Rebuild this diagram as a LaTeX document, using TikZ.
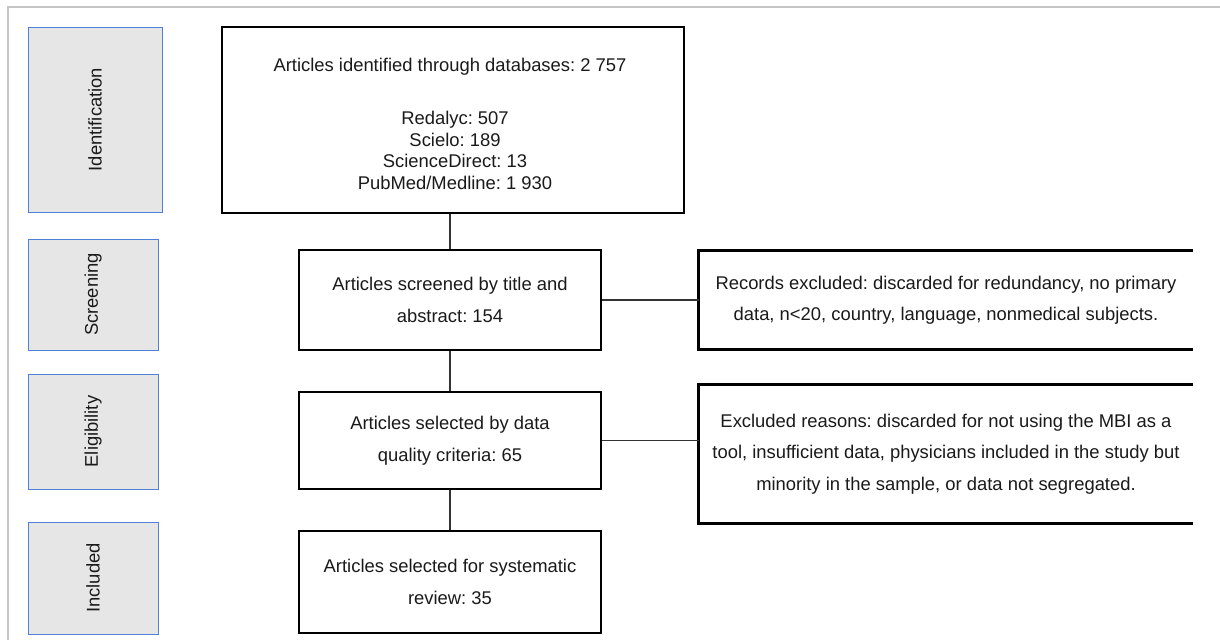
\documentclass[tikz,border=0pt]{standalone}
\usepackage{fontspec}
\setmainfont{Liberation Sans}
\definecolor{stageblue}{HTML}{4F81D9}
\definecolor{stagegray}{HTML}{E6E6E6}
\definecolor{linkgray}{HTML}{333333}
\definecolor{framegray}{HTML}{C4C4C4}
\definecolor{txtcol}{HTML}{1A1A1A}
\frenchspacing
\begin{document}
\begin{tikzpicture}[x=1pt,y=-1pt,
  txt/.style={font=\fontsize{18.4}{31.5}\selectfont, text=txtcol},
  stage/.style={draw=stageblue, fill=stagegray, line width=1pt, inner sep=0pt, txt},
  mainbox/.style={draw=black, line width=2.8pt, inner sep=0pt, align=center, txt},
  openbox/.style={draw=none, inner sep=0pt, align=center, txt},
  boxline/.style={draw=black, line width=2.8pt},
  link/.style={draw=linkgray, line width=1.4pt},
  frame/.style={draw=framegray, line width=1.5pt}]
\useasboundingbox (0,0) rectangle (1220,640);
\fill[white] (0,0) rectangle (1220,640);
\draw[frame] (8,640) -- (8,7) -- (1220,7);

% stage labels
\node[stage, minimum width=134pt, minimum height=185pt] (sid) at (95,119.5) {\rotatebox{90}{Identification}};
\node[stage, minimum width=130pt, minimum height=111pt] (sscr) at (93,294.5) {\rotatebox{90}{Screening}};
\node[stage, minimum width=130pt, minimum height=115pt] (selg) at (93,431.5) {\rotatebox{90}{Eligibility}};
\node[stage, minimum width=130pt, minimum height=112pt] (sinc) at (93,578) {\rotatebox{90}{Included}};

% top box
\node[mainbox, minimum width=462pt, minimum height=186pt] (idbox) at (453,120) {};
\node[txt] (head) at (450,67) {Articles identified through databases: 2 757};
\node[txt, align=center, font=\fontsize{18.4}{21.7}\selectfont] (dbs) at (455,150.5)
  {Redalyc: 507\\Scielo: 189\\ScienceDirect: 13\\PubMed/Medline: 1 930};

% flow boxes
\node[mainbox, minimum width=302pt, minimum height=100pt] (screen) at (450,300)
  {Articles screened by title and\\abstract: 154};
\node[mainbox, minimum width=302pt, minimum height=97pt] (elig) at (450,440.5)
  {Articles selected by data\\quality criteria: 65};
\node[mainbox, minimum width=302pt, minimum height=102pt] (incl) at (450,582)
  {Articles selected for systematic\\review: 35};

% exclusion boxes (cut at right)
\node[openbox, minimum width=494pt, minimum height=99pt] (rec) at (946,300)
  {Records excluded: discarded for redundancy, no primary\\data, n<20, country, language, nonmedical subjects.};
\draw[boxline] (rec.north east) -- (rec.north west) -- (rec.south west) -- (rec.south east);
\node[openbox, minimum width=494pt, minimum height=138pt] (excl) at (946,454)
  {Excluded reasons: discarded for not using the MBI as a\\tool, insufficient data, physicians included in the study but\\minority in the sample, or data not segregated.};
\draw[boxline] (excl.north east) -- (excl.north west) -- (excl.south west) -- (excl.south east);

% connectors
\draw[link] (screen.north) -- (screen.north |- idbox.south);
\draw[link] (screen.south) -- (elig.north);
\draw[link] (elig.south) -- (incl.north);
\draw[link] (screen.east) -- (rec.west);
\draw[link] (elig.east) -- (elig.east -| excl.west);
\end{tikzpicture}
\end{document}
